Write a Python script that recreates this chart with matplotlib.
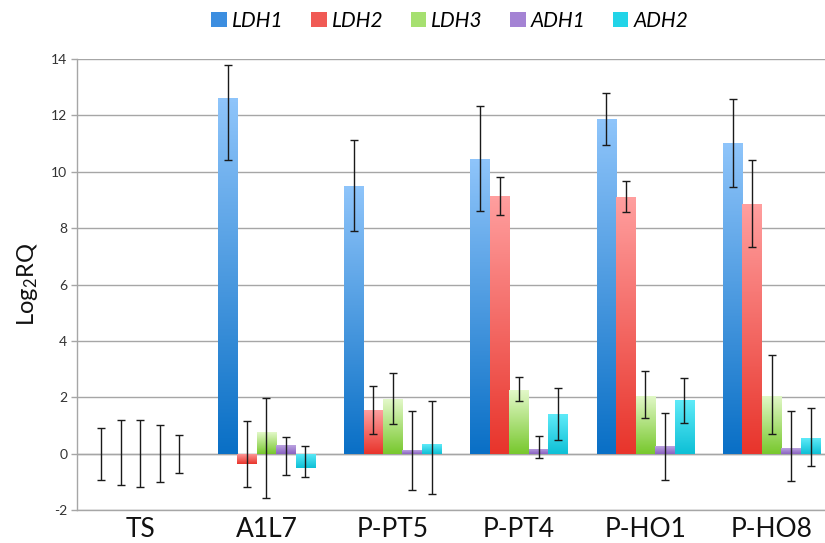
import numpy as np
import matplotlib.pyplot as plt
from matplotlib.colors import LinearSegmentedColormap

plt.rcParams['font.family'] = ['Lato', 'DejaVu Sans']
plt.rcParams['mathtext.fontset'] = 'custom'
plt.rcParams['mathtext.rm'] = 'Lato'
plt.rcParams['mathtext.it'] = 'Lato:italic'
plt.rcParams['axes.unicode_minus'] = False

# 数据
samples = ['TS', 'A1L7', 'P-PT5', 'P-PT4', 'P-HO1', 'P-HO8']
genes = ['LDH1', 'LDH2', 'LDH3', 'ADH1', 'ADH2']

ldh1 = [0.0, 12.6, 9.48, 10.44, 11.86, 11.03]
ldh2 = [0.0, -0.38, 1.54, 9.15, 9.10, 8.84]
ldh3 = [0.0, 0.77, 1.95, 2.25, 2.06, 2.06]
adh1 = [0.0, 0.30, 0.12, 0.18, 0.26, 0.21]
adh2 = [0.0, -0.50, 0.35, 1.39, 1.89, 0.56]

# 误差线上下端点
ldh1_hi = [0.92, 13.78, 11.13, 12.33, 12.79, 12.58]
ldh1_lo = [-0.95, 10.40, 7.91, 8.59, 10.96, 9.47]
ldh2_hi = [1.18, 1.15, 2.39, 9.82, 9.66, 10.40]
ldh2_lo = [-1.12, -1.17, 0.69, 8.48, 8.56, 7.33]
ldh3_hi = [1.20, 1.96, 2.86, 2.72, 2.93, 3.49]
ldh3_lo = [-1.20, -1.57, 1.06, 1.86, 1.25, 0.69]
adh1_hi = [1.00, 0.60, 1.50, 0.61, 1.45, 1.50]
adh1_lo = [-1.00, -0.75, -1.30, -0.17, -0.95, -0.97]
adh2_hi = [0.65, 0.27, 1.88, 2.34, 2.68, 1.62]
adh2_lo = [-0.67, -0.83, -1.44, 0.47, 1.09, -0.45]

values = [ldh1, ldh2, ldh3, adh1, adh2]
highs = [ldh1_hi, ldh2_hi, ldh3_hi, adh1_hi, adh2_hi]
lows = [ldh1_lo, ldh2_lo, ldh3_lo, adh1_lo, adh2_lo]

# 渐变颜色（上浅下深）
grads = [
    ('#8EC4FA', '#0A70C6'),
    ('#FF9E9E', '#E8352C'),
    ('#E2F8C8', '#78C82E'),
    ('#BBA3E0', '#8A63C2'),
    ('#5EEAF8', '#0EC0D6'),
]
solid = ['#3C8EE0', '#F05A55', '#A6E070', '#A483D4', '#22D4E8']

fig = plt.figure(figsize=(8.25, 5.43), dpi=100)
ax = fig.add_axes([77 / 825, 33 / 543, 748 / 825, 451 / 543])

x = np.arange(len(samples))
w = 0.154
grid_c = '#A6A6A6'

for i in range(5):
    pos = x + (i - 2) * w
    v = np.array(values[i])
    bars = ax.bar(pos, v, w, color=solid[i], label=genes[i], zorder=2)
    cmap = LinearSegmentedColormap.from_list('g%d' % i, [grads[i][1], grads[i][0]])
    grad = np.linspace(0, 1, 64).reshape(-1, 1)
    for b in bars:
        if b.get_height() == 0:
            continue
        x0, y0 = b.get_x(), b.get_y()
        x1, y1 = x0 + b.get_width(), y0 + b.get_height()
        lo_, hi_ = min(y0, y1), max(y0, y1)
        im = ax.imshow(grad, cmap=cmap, extent=(x0, x1, lo_, hi_), origin='lower',
                       aspect='auto', zorder=2.5, interpolation='bilinear')
        im.set_clip_path(b)
    err = [v - np.array(lows[i]), np.array(highs[i]) - v]
    ax.errorbar(pos, v, yerr=err, fmt='none', ecolor='#1A1A1A', elinewidth=1.0,
                capsize=3.2, capthick=1.0, zorder=3)

ax.set_aspect('auto')
ax.set_xlim(-0.5, -0.5 + 748 / 126.3)
ax.set_ylim(-2, 14)
ax.set_yticks(range(-2, 15, 2))
ax.yaxis.grid(True, color=grid_c, linewidth=1.0, zorder=0)
ax.set_axisbelow(True)
ax.axhline(0, color=grid_c, linewidth=1.0, zorder=1)

for s in ['top', 'right']:
    ax.spines[s].set_visible(False)
ax.spines['left'].set_color(grid_c)
ax.spines['bottom'].set_color(grid_c)
ax.spines['left'].set_linewidth(1.0)
ax.spines['bottom'].set_linewidth(1.0)

ax.set_xticks(x)
ax.set_xticklabels(samples, fontsize=19, color='#111111')
ax.tick_params(axis='x', length=0, pad=5)
ax.tick_params(axis='y', colors=grid_c, length=4, width=1.0, labelsize=10,
               labelcolor='#333333', pad=3)

ax.set_ylabel('Log$_2$RQ', fontsize=17, color='#111111', labelpad=8)

leg = fig.legend(loc='center', bbox_to_anchor=(450 / 825, 1 - 21 / 543), ncol=5,
                 frameon=False, handlelength=0.75, handleheight=0.7, handletextpad=0.25,
                 columnspacing=1.3,
                 prop={'family': ['Lato'], 'style': 'italic', 'size': 15})

fig.savefig('out.png', dpi=100)
